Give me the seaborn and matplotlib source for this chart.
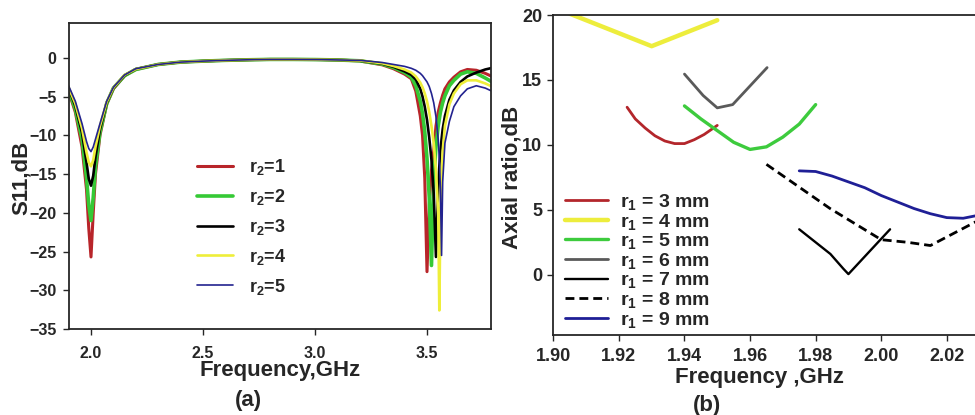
import pandas as pd
import matplotlib
matplotlib.use('Agg')
import matplotlib.pyplot as plt
import seaborn as sns

# ---- (a) S11 data ----
FREQ = [1.90, 1.93, 1.96, 1.98, 1.99, 2.00, 2.01, 2.02, 2.04, 2.07,
        2.10, 2.15, 2.20, 2.30, 2.40, 2.50, 2.60, 2.70, 2.80, 2.90,
        3.00, 3.10, 3.20, 3.30, 3.35, 3.40, 3.43, 3.45, 3.47, 3.48,
        3.49, 3.50, 3.51, 3.52, 3.53, 3.54, 3.55, 3.555, 3.56, 3.565,
        3.57, 3.58, 3.60, 3.62, 3.65, 3.68, 3.72, 3.76, 3.79]
MID = [-0.85, -0.55, -0.42, -0.32, -0.25, -0.2, -0.2, -0.22, -0.27]

s11_r1 = [-4.3, -7.0, -11.5, -17.0, -22.0, -25.7, -20.0, -15.0, -10.0, -6.0,
          -4.0, -2.3, -1.5] + MID + [
          -0.4, -0.9, -1.4, -2.1, -2.7, -4.3, -7.5, -10.0,
          -15.5, -27.6, -19.0, -14.5, -12.0, -8.8, -7.0, -6.4, -5.8, -5.3,
          -4.8, -4.0, -3.1, -2.5, -1.8, -1.5, -1.6, -2.0, -2.4]
s11_r2 = [-4.1, -6.6, -10.5, -15.5, -19.0, -21.0, -18.0, -14.0, -9.6, -5.9,
          -3.9, -2.3, -1.5] + MID + [
          -0.38, -0.8, -1.25, -1.9, -2.5, -3.6, -5.6, -7.2,
          -9.5, -13.0, -18.0, -26.8, -16.0, -11.5, -8.8, -7.9, -7.0, -6.4,
          -5.8, -4.9, -3.6, -2.9, -2.1, -1.8, -2.0, -2.6, -3.1]
s11_r3 = [-3.9, -6.2, -9.7, -13.5, -15.6, -16.5, -15.2, -12.8, -9.2, -5.8,
          -3.9, -2.25, -1.45] + MID + [
          -0.36, -0.75, -1.15, -1.75, -2.2, -2.8, -4.0, -5.0,
          -6.3, -8.0, -10.3, -13.2, -17.5, -25.7, -17.0, -14.0, -12.0, -10.5,
          -9.2, -7.5, -5.4, -4.2, -3.1, -2.4, -1.9, -1.5, -1.3]
s11_r4 = [-3.8, -5.9, -9.1, -12.2, -13.5, -14.0, -13.2, -11.5, -8.8, -5.7,
          -3.85, -2.2, -1.45] + MID + [
          -0.34, -0.7, -1.05, -1.5, -1.9, -2.4, -3.2, -3.8,
          -4.6, -5.6, -7.0, -8.8, -11.0, -14.5, -20.0, -32.6, -20.0, -15.0,
          -12.0, -8.8, -6.0, -4.6, -3.4, -2.9, -2.9, -3.3, -3.7]
s11_r5 = [-3.6, -5.6, -8.5, -10.8, -11.7, -12.1, -11.5, -10.5, -8.5, -5.6,
          -3.8, -2.2, -1.4] + MID + [
          -0.32, -0.6, -0.85, -1.1, -1.35, -1.6, -2.0, -2.3,
          -2.7, -3.1, -3.7, -4.6, -5.8, -7.6, -10.5, -13.0, -17.0, -25.5,
          -16.0, -11.0, -8.2, -6.3, -4.9, -4.0, -3.6, -3.9, -4.3]

labels_a = [r'$\mathrm{r_2}$=1', r'$\mathrm{r_2}$=2', r'$\mathrm{r_2}$=3',
            r'$\mathrm{r_2}$=4', r'$\mathrm{r_2}$=5']

# ---- (b) axial ratio data ----
f_r3 = [1.9225, 1.925, 1.928, 1.931, 1.934, 1.937, 1.940, 1.943, 1.946, 1.950]
ar_r3 = [12.9, 12.0, 11.3, 10.7, 10.3, 10.1, 10.1, 10.4, 10.8, 11.5]
f_r4 = [1.905, 1.930, 1.950]
ar_r4 = [20.1, 17.6, 19.6]
f_r5 = [1.940, 1.945, 1.950, 1.955, 1.960, 1.965, 1.970, 1.975, 1.980]
ar_r5 = [13.0, 12.0, 11.1, 10.2, 9.65, 9.85, 10.6, 11.6, 13.1]
f_r6 = [1.940, 1.9457, 1.950, 1.9547, 1.9652]
ar_r6 = [15.45, 13.8, 12.85, 13.1, 15.95]
f_r7 = [1.975, 1.9845, 1.9885, 1.990, 2.0027]
ar_r7 = [3.5, 1.6, 0.45, 0.05, 3.5]
f_r8 = [1.965, 1.9844, 2.000, 2.008, 2.015, 2.029]
ar_r8 = [8.5, 5.1, 2.7, 2.5, 2.25, 4.1]
f_r9 = [1.975, 1.980, 1.985, 1.990, 1.995, 2.000, 2.005, 2.010, 2.015,
        2.020, 2.025, 2.029]
ar_r9 = [8.0, 7.95, 7.6, 7.15, 6.7, 6.1, 5.6, 5.1, 4.7, 4.4, 4.35, 4.55]

labels_b = [r'$\mathrm{r_1}$ = %d mm' % k for k in range(3, 10)]

sns.set_style('ticks')
plt.rcParams['font.family'] = ['Liberation Sans', 'DejaVu Sans']
plt.rcParams['font.weight'] = 'bold'
plt.rcParams['mathtext.fontset'] = 'custom'
plt.rcParams['mathtext.rm'] = 'Liberation Sans:bold'
plt.rcParams['mathtext.bf'] = 'Liberation Sans:bold'
plt.rcParams['mathtext.it'] = 'Liberation Sans:bold'

fig = plt.figure(figsize=(9.75, 4.15), dpi=100)
ax1 = fig.add_axes([69 / 975, 1 - 329 / 415, 422 / 975, 306 / 415])
ax2 = fig.add_axes([553.3 / 975, 1 - 334.5 / 415, 421.7 / 975, 319.5 / 415])

# ---- panel (a) ----
colors_a = ['#b8252a', '#35c935', '#000000', '#eeee3a', '#23238f']
widths_a = [2.2, 2.6, 1.9, 1.9, 1.2]
for vals, lab, c, lw in zip([s11_r1, s11_r2, s11_r3, s11_r4, s11_r5],
                            labels_a, colors_a, widths_a):
    sns.lineplot(x=FREQ, y=vals, ax=ax1, color=c, linewidth=lw, label=lab,
                 sort=False, estimator=None)

ax1.set_xlim(1.9018, 3.7857)
ax1.set_ylim(-35, 4.5)
ax1.set_xticks([2.0, 2.5, 3.0, 3.5])
ax1.set_yticks(range(-35, 1, 5))
ax1.tick_params(axis='both', labelsize=11.5, length=4, width=1, direction='out')
ax1.tick_params(axis='x', pad=8)
ax1.tick_params(axis='y', pad=5)
for s in ax1.spines.values():
    s.set_linewidth(1.3)
ax1.set_xlabel('Frequency,GHz', fontsize=16, fontweight='bold', va='center')
ax1.xaxis.set_label_coords(0.5, -0.134)
ax1.set_ylabel('S11,dB', fontsize=16, fontweight='bold', va='center')
ax1.yaxis.set_label_coords(-0.113, 0.493)
ax1.legend(loc='upper left', bbox_to_anchor=(197 / 975, 1 - 157 / 415),
           bbox_transform=fig.transFigure, frameon=False, fontsize=13,
           handlelength=2.0, handletextpad=0.9, labelspacing=0.55,
           borderpad=0, borderaxespad=0)

# ---- panel (b) ----
series_b = [(f_r3, ar_r3, '#b3262b', 2.0, '-'),
            (f_r4, ar_r4, '#eded3c', 3.2, '-'),
            (f_r5, ar_r5, '#3dcb3d', 2.4, '-'),
            (f_r6, ar_r6, '#5a5a5a', 2.0, '-'),
            (f_r7, ar_r7, '#000000', 1.7, '-'),
            (f_r8, ar_r8, '#000000', 2.0, (0, (3.2, 1.8))),
            (f_r9, ar_r9, '#1f1f96', 2.0, '-')]
for (fx, vy, c, lw, ls), lab in zip(series_b, labels_b):
    sns.lineplot(x=fx, y=vy, ax=ax2, color=c, linewidth=lw, linestyle=ls,
                 label=lab, sort=False, estimator=None)

ax2.set_xlim(1.90, 2.0286)
ax2.set_ylim(-4.6, 20)
ax2.set_xticks([1.90, 1.92, 1.94, 1.96, 1.98, 2.00, 2.02])
ax2.set_xticklabels(['1.90', '1.92', '1.94', '1.96', '1.98', '2.00', '2.02'])
ax2.set_yticks([0, 5, 10, 15, 20])
ax2.tick_params(axis='both', labelsize=13, length=4, width=1, direction='out')
ax2.tick_params(axis='x', pad=6)
ax2.tick_params(axis='y', pad=4)
ax2.spines['right'].set_visible(False)
for s in ax2.spines.values():
    s.set_linewidth(1.3)
ax2.set_xlabel('Frequency ,GHz', fontsize=16, fontweight='bold', va='center')
ax2.xaxis.set_label_coords(0.49, -0.136)
ax2.set_ylabel('Axial ratio,dB', fontsize=16, fontweight='bold', va='center')
ax2.yaxis.set_label_coords(-0.097, 0.493)
ax2.legend(loc='upper left', bbox_to_anchor=(565 / 975, 1 - 192 / 415),
           bbox_transform=fig.transFigure, frameon=False, fontsize=14,
           handlelength=2.2, handletextpad=0.65, labelspacing=-0.02,
           borderpad=0, borderaxespad=0)

fig.text(248 / 975, 1 - 400 / 415, '(a)', fontsize=16, fontweight='bold',
         ha='center', va='center')
fig.text(707 / 975, 1 - 405 / 415, '(b)', fontsize=16, fontweight='bold',
         ha='center', va='center')

fig.savefig('out.png', dpi=100)
